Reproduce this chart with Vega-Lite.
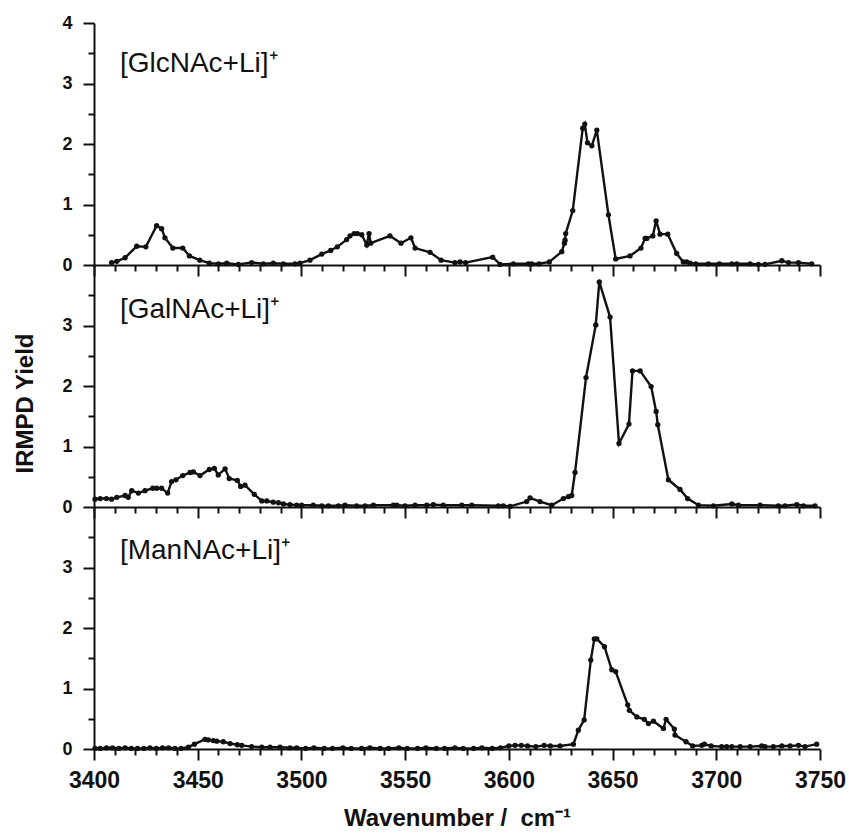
{
  "$schema": "https://vega.github.io/schema/vega-lite/v6.json",
  "padding": {"left": 13, "top": 14, "right": 3, "bottom": 4},
  "background": "white",
  "bounds": "flush",
  "spacing": 0,
  "config": {
    "view": {"stroke": null},
    "concat": {"spacing": 0},
    "axis": {
      "domainColor": "#111111", "domainWidth": 2, "tickColor": "#111111", "tickWidth": 2,
      "grid": false, "labelFont": "Liberation Sans", "labelFontWeight": "bold", "labelColor": "#111111",
      "titleFont": "Liberation Sans", "titleFontWeight": "bold", "titleColor": "#111111",
      "labelOverlap": false, "labelFlush": false
    }
  },
  "datasets": {
    "glc": [
      {"wn": 3408.5, "v": 0.04}, {"wn": 3411, "v": 0.06}, {"wn": 3415, "v": 0.12}, {"wn": 3420.6, "v": 0.31},
      {"wn": 3425, "v": 0.30}, {"wn": 3430.2, "v": 0.65}, {"wn": 3432.6, "v": 0.60}, {"wn": 3434.2, "v": 0.45},
      {"wn": 3438, "v": 0.28}, {"wn": 3442.8, "v": 0.28}, {"wn": 3446, "v": 0.15}, {"wn": 3451, "v": 0.08},
      {"wn": 3455.6, "v": 0.03}, {"wn": 3460, "v": 0.02}, {"wn": 3464, "v": 0.03}, {"wn": 3469.6, "v": 0.01},
      {"wn": 3476, "v": 0.04}, {"wn": 3481.6, "v": 0.02}, {"wn": 3486.4, "v": 0.03}, {"wn": 3491.3, "v": 0.02},
      {"wn": 3496.9, "v": 0.02}, {"wn": 3499.3, "v": 0.03}, {"wn": 3504.1, "v": 0.08}, {"wn": 3509.8, "v": 0.18},
      {"wn": 3514.1, "v": 0.24}, {"wn": 3517.3, "v": 0.30}, {"wn": 3521.8, "v": 0.42}, {"wn": 3523.4, "v": 0.48},
      {"wn": 3525.4, "v": 0.52}, {"wn": 3527, "v": 0.52}, {"wn": 3529.1, "v": 0.50}, {"wn": 3531.5, "v": 0.33},
      {"wn": 3532.6, "v": 0.52}, {"wn": 3533.4, "v": 0.36}, {"wn": 3542.7, "v": 0.48}, {"wn": 3548, "v": 0.36},
      {"wn": 3552.8, "v": 0.45}, {"wn": 3554.8, "v": 0.28}, {"wn": 3562, "v": 0.21}, {"wn": 3567.3, "v": 0.08},
      {"wn": 3574, "v": 0.04}, {"wn": 3576.5, "v": 0.05}, {"wn": 3579.2, "v": 0.04}, {"wn": 3592.2, "v": 0.13},
      {"wn": 3595.8, "v": 0.01}, {"wn": 3602.2, "v": 0.02}, {"wn": 3609.4, "v": 0.02}, {"wn": 3611, "v": 0.02},
      {"wn": 3614.6, "v": 0.02}, {"wn": 3619.5, "v": 0.05}, {"wn": 3625.5, "v": 0.22}, {"wn": 3626.8, "v": 0.36},
      {"wn": 3627.1, "v": 0.41}, {"wn": 3627.4, "v": 0.52}, {"wn": 3630.8, "v": 0.90}, {"wn": 3635.6, "v": 2.26},
      {"wn": 3636.6, "v": 2.33}, {"wn": 3637.9, "v": 2.02}, {"wn": 3640, "v": 1.97}, {"wn": 3642.4, "v": 2.23},
      {"wn": 3648, "v": 0.83}, {"wn": 3651.5, "v": 0.10}, {"wn": 3658.4, "v": 0.15}, {"wn": 3663.7, "v": 0.28},
      {"wn": 3665.7, "v": 0.44}, {"wn": 3666.5, "v": 0.44}, {"wn": 3669.4, "v": 0.48}, {"wn": 3671, "v": 0.73},
      {"wn": 3672.9, "v": 0.51}, {"wn": 3676.6, "v": 0.51}, {"wn": 3680.9, "v": 0.19}, {"wn": 3684.1, "v": 0.05},
      {"wn": 3685.7, "v": 0.05}, {"wn": 3687.4, "v": 0.03}, {"wn": 3690.1, "v": 0.02}, {"wn": 3696.2, "v": 0.02},
      {"wn": 3701.5, "v": 0.02}, {"wn": 3707.5, "v": 0.02}, {"wn": 3709.9, "v": 0.02}, {"wn": 3716.3, "v": 0.02},
      {"wn": 3720.3, "v": 0.01}, {"wn": 3723.5, "v": 0.01}, {"wn": 3731.6, "v": 0.07}, {"wn": 3734.8, "v": 0.04},
      {"wn": 3739.6, "v": 0.04}, {"wn": 3746, "v": 0.02}
    ],
    "gal": [
      {"wn": 3400.5, "v": 0.13}, {"wn": 3403, "v": 0.14}, {"wn": 3406, "v": 0.14}, {"wn": 3408.5, "v": 0.13},
      {"wn": 3411, "v": 0.16}, {"wn": 3415, "v": 0.19}, {"wn": 3416.5, "v": 0.16}, {"wn": 3418.2, "v": 0.27},
      {"wn": 3421.4, "v": 0.23}, {"wn": 3424.6, "v": 0.27}, {"wn": 3428.3, "v": 0.31}, {"wn": 3430.2, "v": 0.31},
      {"wn": 3432.6, "v": 0.31}, {"wn": 3435.5, "v": 0.23}, {"wn": 3437.4, "v": 0.42}, {"wn": 3439.5, "v": 0.45},
      {"wn": 3442.8, "v": 0.52}, {"wn": 3446.3, "v": 0.57}, {"wn": 3447.9, "v": 0.58}, {"wn": 3451.1, "v": 0.52},
      {"wn": 3455.6, "v": 0.62}, {"wn": 3458, "v": 0.64}, {"wn": 3459.9, "v": 0.53}, {"wn": 3463.2, "v": 0.63},
      {"wn": 3465.2, "v": 0.47}, {"wn": 3469.1, "v": 0.44}, {"wn": 3470.7, "v": 0.34}, {"wn": 3472.8, "v": 0.36},
      {"wn": 3477.3, "v": 0.21}, {"wn": 3480.9, "v": 0.10}, {"wn": 3483.3, "v": 0.10}, {"wn": 3486.4, "v": 0.08},
      {"wn": 3488.9, "v": 0.07}, {"wn": 3491.3, "v": 0.05}, {"wn": 3494.5, "v": 0.04}, {"wn": 3497.7, "v": 0.03},
      {"wn": 3500.1, "v": 0.03}, {"wn": 3505.7, "v": 0.03}, {"wn": 3509.8, "v": 0.02}, {"wn": 3513, "v": 0.02},
      {"wn": 3517.8, "v": 0.02}, {"wn": 3521, "v": 0.03}, {"wn": 3526.6, "v": 0.02}, {"wn": 3530.7, "v": 0.02},
      {"wn": 3534.7, "v": 0.03}, {"wn": 3544.3, "v": 0.03}, {"wn": 3546, "v": 0.03}, {"wn": 3550, "v": 0.02},
      {"wn": 3554.8, "v": 0.03}, {"wn": 3560.4, "v": 0.03}, {"wn": 3563.6, "v": 0.04}, {"wn": 3568.4, "v": 0.03},
      {"wn": 3577.3, "v": 0.03}, {"wn": 3582.1, "v": 0.03}, {"wn": 3594.9, "v": 0.02}, {"wn": 3597.3, "v": 0.02},
      {"wn": 3600.6, "v": 0.01}, {"wn": 3608.6, "v": 0.09}, {"wn": 3610.2, "v": 0.15}, {"wn": 3615, "v": 0.09},
      {"wn": 3620.7, "v": 0.03}, {"wn": 3626.3, "v": 0.14}, {"wn": 3628.7, "v": 0.17}, {"wn": 3630.3, "v": 0.19},
      {"wn": 3631.9, "v": 0.57}, {"wn": 3637.2, "v": 2.14}, {"wn": 3641.9, "v": 3.01}, {"wn": 3643.6, "v": 3.72},
      {"wn": 3648.8, "v": 3.14}, {"wn": 3653.1, "v": 1.05}, {"wn": 3657.9, "v": 1.37}, {"wn": 3659.6, "v": 2.25},
      {"wn": 3663.3, "v": 2.25}, {"wn": 3668.6, "v": 1.99}, {"wn": 3671, "v": 1.58}, {"wn": 3671.8, "v": 1.36},
      {"wn": 3676.9, "v": 0.45}, {"wn": 3682.5, "v": 0.29}, {"wn": 3686.2, "v": 0.14}, {"wn": 3691.4, "v": 0.03},
      {"wn": 3698.6, "v": 0.02}, {"wn": 3707.5, "v": 0.05}, {"wn": 3710.7, "v": 0.03}, {"wn": 3721.1, "v": 0.03},
      {"wn": 3729.9, "v": 0.02}, {"wn": 3733.2, "v": 0.02}, {"wn": 3738.8, "v": 0.04}, {"wn": 3742, "v": 0.02},
      {"wn": 3747.6, "v": 0.02}
    ],
    "man": [
      {"wn": 3400.5, "v": 0.01}, {"wn": 3403, "v": 0.01}, {"wn": 3406, "v": 0.02}, {"wn": 3409, "v": 0.02},
      {"wn": 3412, "v": 0.01}, {"wn": 3415, "v": 0.02}, {"wn": 3418, "v": 0.01}, {"wn": 3421, "v": 0.01},
      {"wn": 3424, "v": 0.01}, {"wn": 3427, "v": 0.02}, {"wn": 3430, "v": 0.01}, {"wn": 3433, "v": 0.02},
      {"wn": 3436, "v": 0.02}, {"wn": 3439, "v": 0.01}, {"wn": 3442, "v": 0.01}, {"wn": 3445.5, "v": 0.03},
      {"wn": 3448.4, "v": 0.08}, {"wn": 3453.5, "v": 0.16}, {"wn": 3455.1, "v": 0.15}, {"wn": 3457.5, "v": 0.14},
      {"wn": 3459.2, "v": 0.13}, {"wn": 3462.3, "v": 0.12}, {"wn": 3465.6, "v": 0.09}, {"wn": 3469.1, "v": 0.07},
      {"wn": 3471.2, "v": 0.06}, {"wn": 3476, "v": 0.04}, {"wn": 3480.9, "v": 0.03}, {"wn": 3484.9, "v": 0.03},
      {"wn": 3489.7, "v": 0.03}, {"wn": 3494.5, "v": 0.02}, {"wn": 3497.7, "v": 0.02}, {"wn": 3502, "v": 0.01},
      {"wn": 3506, "v": 0.02}, {"wn": 3511, "v": 0.01}, {"wn": 3515, "v": 0.01}, {"wn": 3520, "v": 0.02},
      {"wn": 3524, "v": 0.01}, {"wn": 3529, "v": 0.01}, {"wn": 3533, "v": 0.02}, {"wn": 3538, "v": 0.01},
      {"wn": 3542, "v": 0.01}, {"wn": 3547, "v": 0.02}, {"wn": 3551, "v": 0.01}, {"wn": 3556, "v": 0.01},
      {"wn": 3560, "v": 0.02}, {"wn": 3565, "v": 0.01}, {"wn": 3569, "v": 0.01}, {"wn": 3574, "v": 0.02},
      {"wn": 3578, "v": 0.01}, {"wn": 3583, "v": 0.01}, {"wn": 3587, "v": 0.02}, {"wn": 3592, "v": 0.01},
      {"wn": 3596, "v": 0.02}, {"wn": 3600, "v": 0.05}, {"wn": 3603, "v": 0.06}, {"wn": 3606, "v": 0.06},
      {"wn": 3609, "v": 0.05}, {"wn": 3613, "v": 0.04}, {"wn": 3617, "v": 0.06}, {"wn": 3620, "v": 0.05},
      {"wn": 3624.7, "v": 0.05}, {"wn": 3631.1, "v": 0.08}, {"wn": 3633.5, "v": 0.31}, {"wn": 3636.3, "v": 0.48},
      {"wn": 3639.5, "v": 1.47}, {"wn": 3641.2, "v": 1.82}, {"wn": 3642.4, "v": 1.82}, {"wn": 3646.1, "v": 1.69},
      {"wn": 3649.6, "v": 1.31}, {"wn": 3651.5, "v": 1.28}, {"wn": 3657.3, "v": 0.73}, {"wn": 3658.1, "v": 0.64},
      {"wn": 3661.7, "v": 0.53}, {"wn": 3665.3, "v": 0.49}, {"wn": 3667.3, "v": 0.42}, {"wn": 3669.7, "v": 0.46},
      {"wn": 3674.5, "v": 0.34}, {"wn": 3675.8, "v": 0.49}, {"wn": 3679.8, "v": 0.33}, {"wn": 3680.1, "v": 0.23},
      {"wn": 3685.4, "v": 0.12}, {"wn": 3688.6, "v": 0.05}, {"wn": 3693, "v": 0.06}, {"wn": 3694.3, "v": 0.08},
      {"wn": 3697.5, "v": 0.05}, {"wn": 3702.6, "v": 0.04}, {"wn": 3705, "v": 0.04}, {"wn": 3707.5, "v": 0.04},
      {"wn": 3711.5, "v": 0.04}, {"wn": 3716.3, "v": 0.04}, {"wn": 3721.9, "v": 0.05}, {"wn": 3723.5, "v": 0.04},
      {"wn": 3727.5, "v": 0.04}, {"wn": 3731.6, "v": 0.05}, {"wn": 3735.6, "v": 0.05}, {"wn": 3739.6, "v": 0.06},
      {"wn": 3742.8, "v": 0.04}, {"wn": 3748.4, "v": 0.08}
    ]
  },
  "vconcat": [
    {
      "width": 726, "height": 242,
      "resolve": {"axis": {"x": "independent", "y": "independent"}},
      "layer": [
        {
          "data": {"name": "glc"},
          "mark": {"type": "line", "color": "#111111", "strokeWidth": 2.4, "point": {"filled": true, "size": 28, "color": "#111111"}},
          "encoding": {
            "x": {"field": "wn", "type": "quantitative", "scale": {"domain": [3400, 3750], "nice": false},
              "axis": {"orient": "bottom", "values": [3400,3450,3500,3550,3600,3650,3700,3750], "tickSize": 11, "labels": false, "title": null}},
            "y": {"field": "v", "type": "quantitative", "scale": {"domain": [0, 4], "nice": false},
              "axis": {"orient": "left", "values": [0,1,2,3,4], "format": "d", "tickSize": 11, "labelFontSize": 18, "labelPadding": 11, "title": null}}
          }
        },
        {
          "data": {"values": [{"label": "[GlcNAc+Li]⁺"}]},
          "mark": {"type": "text", "align": "left", "baseline": "alphabetic", "font": "Liberation Sans", "fontSize": 28, "color": "#111111"},
          "encoding": {
            "x": {"datum": 3412.5, "type": "quantitative",
              "axis": {"orient": "bottom", "values": [3410,3420,3430,3440,3460,3470,3480,3490,3510,3520,3530,3540,3560,3570,3580,3590,3610,3620,3630,3640,3660,3670,3680,3690,3710,3720,3730,3740], "tickSize": 6, "labels": false, "domain": false, "title": null}},
            "y": {"datum": 3.19, "type": "quantitative",
              "axis": {"orient": "left", "values": [0.5,1.5,2.5,3.5], "tickSize": 6, "labels": false, "domain": false, "title": null}},
            "text": {"field": "label"}
          }
        }
      ]
    },
    {
      "width": 726, "height": 242,
      "resolve": {"axis": {"x": "independent", "y": "independent"}},
      "layer": [
        {
          "data": {"name": "gal"},
          "mark": {"type": "line", "color": "#111111", "strokeWidth": 2.4, "point": {"filled": true, "size": 28, "color": "#111111"}},
          "encoding": {
            "x": {"field": "wn", "type": "quantitative", "scale": {"domain": [3400, 3750], "nice": false},
              "axis": {"orient": "bottom", "values": [3400,3450,3500,3550,3600,3650,3700,3750], "tickSize": 11, "labels": false, "title": null}},
            "y": {"field": "v", "type": "quantitative", "scale": {"domain": [0, 4], "nice": false},
              "axis": {"orient": "left", "values": [0,1,2,3], "format": "d", "tickSize": 11, "labelFontSize": 18, "labelPadding": 11,
                "title": "IRMPD Yield", "titleFontSize": 24, "titlePadding": 24, "titleY": 138}}
          }
        },
        {
          "data": {"values": [{"label": "[GalNAc+Li]⁺"}]},
          "mark": {"type": "text", "align": "left", "baseline": "alphabetic", "font": "Liberation Sans", "fontSize": 28, "color": "#111111"},
          "encoding": {
            "x": {"datum": 3412.5, "type": "quantitative",
              "axis": {"orient": "bottom", "values": [3410,3420,3430,3440,3460,3470,3480,3490,3510,3520,3530,3540,3560,3570,3580,3590,3610,3620,3630,3640,3660,3670,3680,3690,3710,3720,3730,3740], "tickSize": 6, "labels": false, "domain": false, "title": null}},
            "y": {"datum": 3.12, "type": "quantitative",
              "axis": {"orient": "left", "values": [0.5,1.5,2.5,3.5], "tickSize": 6, "labels": false, "domain": false, "title": null}},
            "text": {"field": "label"}
          }
        }
      ]
    },
    {
      "width": 726, "height": 242,
      "resolve": {"axis": {"x": "independent", "y": "independent"}},
      "layer": [
        {
          "data": {"name": "man"},
          "mark": {"type": "line", "color": "#111111", "strokeWidth": 2.4, "point": {"filled": true, "size": 28, "color": "#111111"}},
          "encoding": {
            "x": {"field": "wn", "type": "quantitative", "scale": {"domain": [3400, 3750], "nice": false},
              "axis": {"orient": "bottom", "values": [3400,3450,3500,3550,3600,3650,3700,3750], "format": "d", "tickSize": 11, "labelFontSize": 23, "labelPadding": 9,
                "title": "Wavenumber / \u00a0cm⁻¹", "titleFontSize": 24, "titlePadding": 14}},
            "y": {"field": "v", "type": "quantitative", "scale": {"domain": [0, 4], "nice": false},
              "axis": {"orient": "left", "values": [0,1,2,3], "format": "d", "tickSize": 11, "labelFontSize": 18, "labelPadding": 11, "title": null}}
          }
        },
        {
          "data": {"values": [{"label": "[ManNAc+Li]⁺"}]},
          "mark": {"type": "text", "align": "left", "baseline": "alphabetic", "font": "Liberation Sans", "fontSize": 28, "color": "#111111"},
          "encoding": {
            "x": {"datum": 3412.5, "type": "quantitative",
              "axis": {"orient": "bottom", "values": [3410,3420,3430,3440,3460,3470,3480,3490,3510,3520,3530,3540,3560,3570,3580,3590,3610,3620,3630,3640,3660,3670,3680,3690,3710,3720,3730,3740], "tickSize": 6, "labels": false, "domain": false, "title": null}},
            "y": {"datum": 3.14, "type": "quantitative",
              "axis": {"orient": "left", "values": [0.5,1.5,2.5,3.5], "tickSize": 6, "labels": false, "domain": false, "title": null}},
            "text": {"field": "label"}
          }
        }
      ]
    }
  ]
}
